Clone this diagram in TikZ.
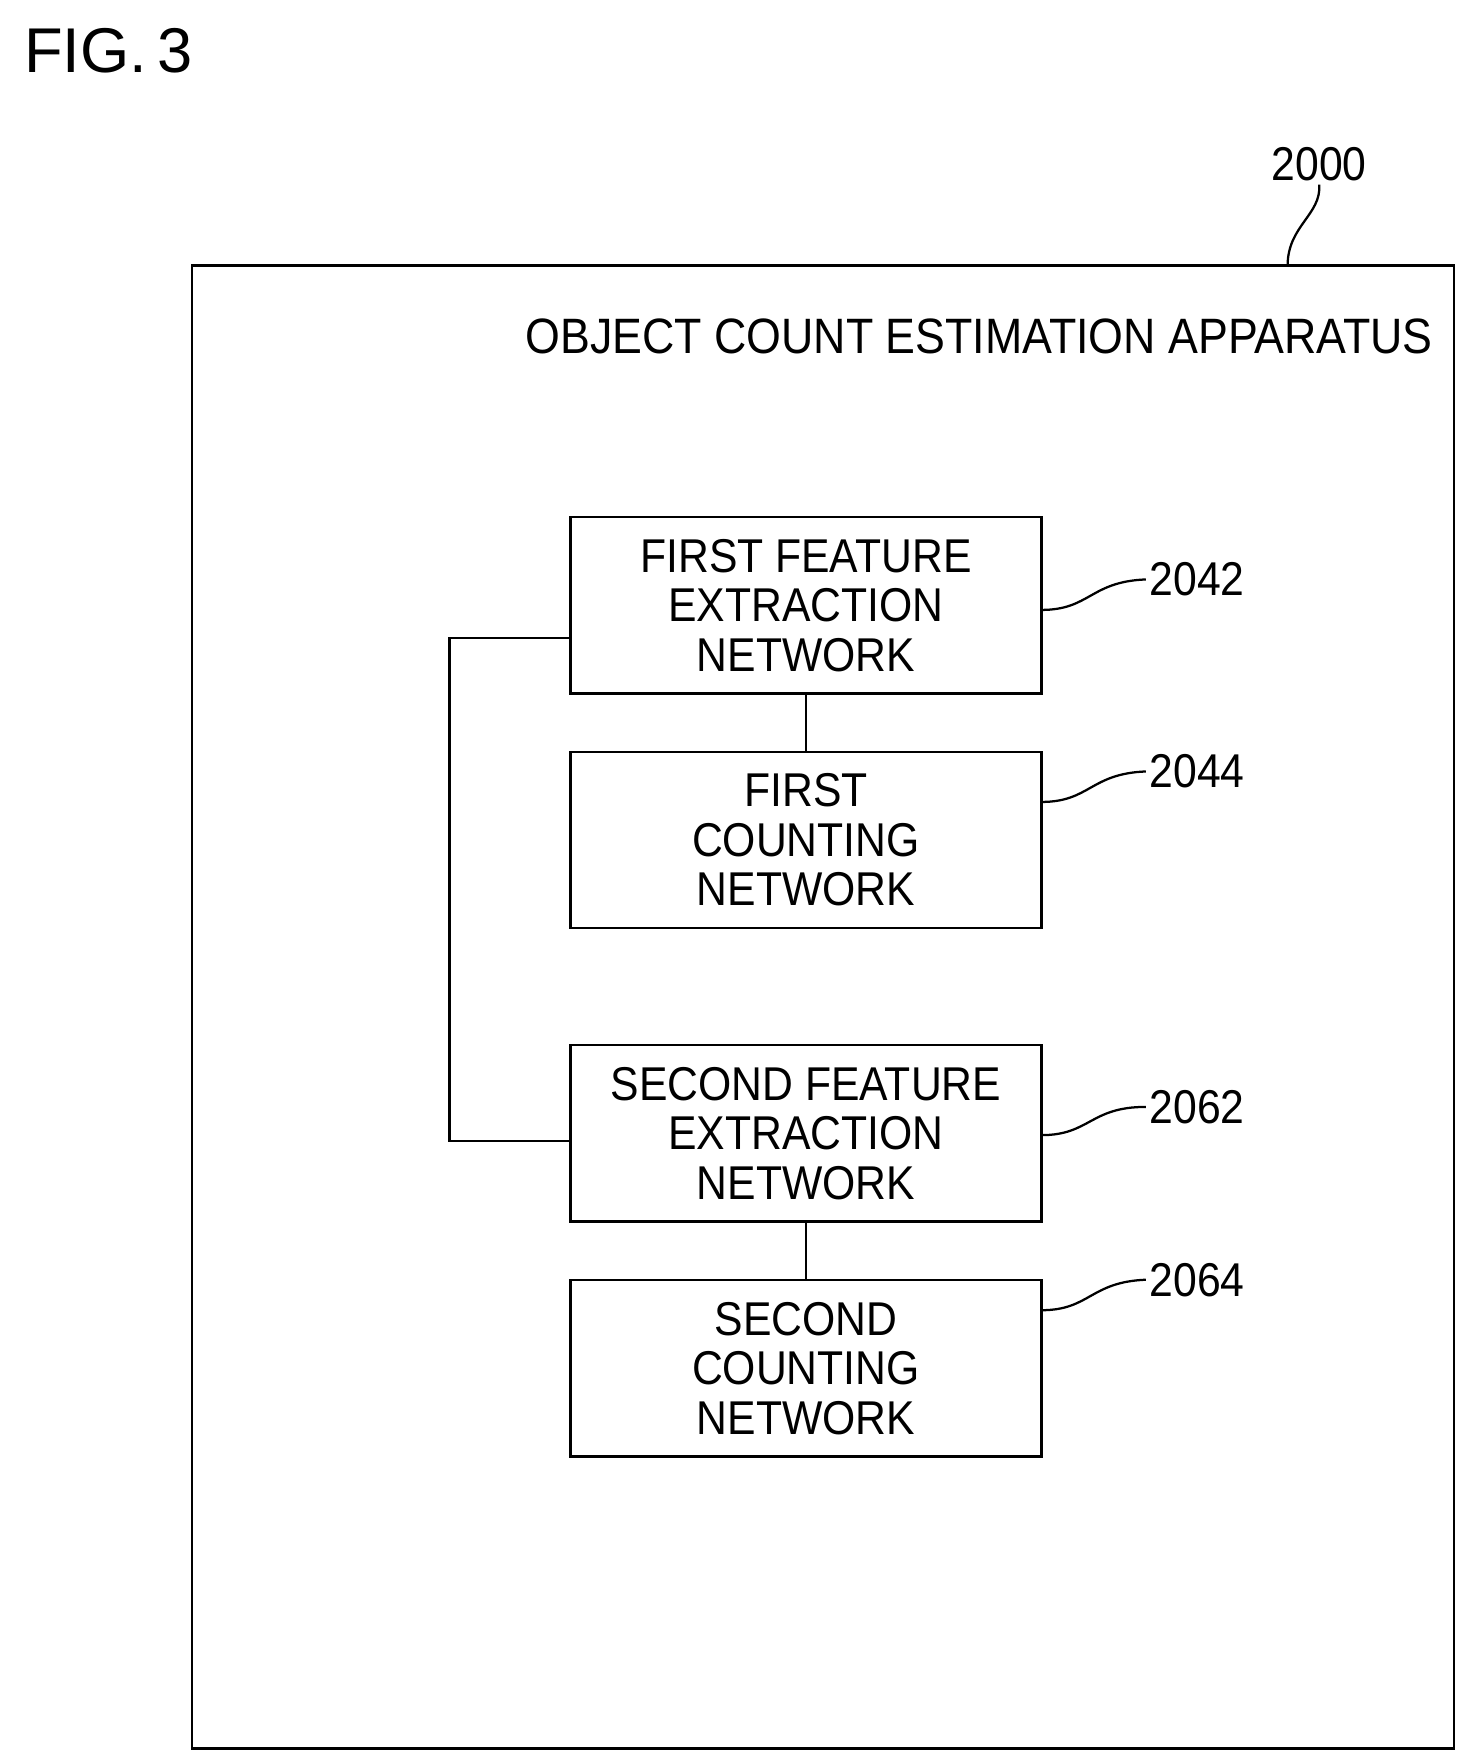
\documentclass[tikz,border=0pt]{standalone}
\usepackage{fontspec}
\setmainfont{Liberation Sans}
\begin{document}
\begin{tikzpicture}[x=1pt,y=-1pt,
  blk/.style={draw,line width=2pt,minimum width=417pt,minimum height=156pt,inner sep=0pt,align=center,font=\fontsize{42}{44}\selectfont},
  lbl/.style={font=\fontsize{42}{42}\selectfont},
  ln/.style={line width=2pt}]
\useasboundingbox (0,0) rectangle (1300,1560);
\node[anchor=west,font=\fontsize{56}{56}\selectfont] (fig) at (18,45) {FIG.\,3};
\draw[ln] (170,235) rectangle (1287,1548);
\node[anchor=east,font=\fontsize{44}{44}\selectfont] (title) at (1272,298) {\scalebox{0.9}[1]{OBJECT COUNT ESTIMATION APPARATUS}};
\node[lbl] (n2000) at (1168,145) {\scalebox{0.9}[1]{2000}};
\coordinate (c2000) at (1140,235);
\draw[ln] (n2000.south) .. controls (1170,190) and (1140,200) .. (c2000);
\newcommand\tl[3]{\scalebox{0.9}[1]{#1}\\\scalebox{0.9}[1]{#2}\\\scalebox{0.9}[1]{#3}}
\node[blk] (b1) at (713.5,536) {\tl{FIRST FEATURE}{EXTRACTION}{NETWORK}};
\node[blk] (b2) at (713.5,743.5) {\tl{FIRST}{COUNTING}{NETWORK}};
\node[blk] (b3) at (713.5,1003.5) {\tl{SECOND FEATURE}{EXTRACTION}{NETWORK}};
\node[blk] (b4) at (713.5,1211.5) {\tl{SECOND}{COUNTING}{NETWORK}};
\draw[ln] (b1.south) -- (b2.north);
\draw[ln] (b3.south) -- (b4.north);
\coordinate (k1) at (398,565);
\coordinate (k2) at (398,1010);
\draw[ln] (b1.west |- k1) -- (k1) -- (k2) -- (b3.west |- k2);
\node[lbl] (l1) at (1060,513) {\scalebox{0.9}[1]{2042}};
\node[lbl] (l2) at (1060,683) {\scalebox{0.9}[1]{2044}};
\node[lbl] (l3) at (1060,980) {\scalebox{0.9}[1]{2062}};
\node[lbl] (l4) at (1060,1133) {\scalebox{0.9}[1]{2064}};
\foreach \l/\y in {l1/540,l2/710,l3/1005,l4/1160}{
  \draw[ln] (922,\y) .. controls (965,\y) and (965,\y-25) .. (\l.west);
}
\end{tikzpicture}
\end{document}
